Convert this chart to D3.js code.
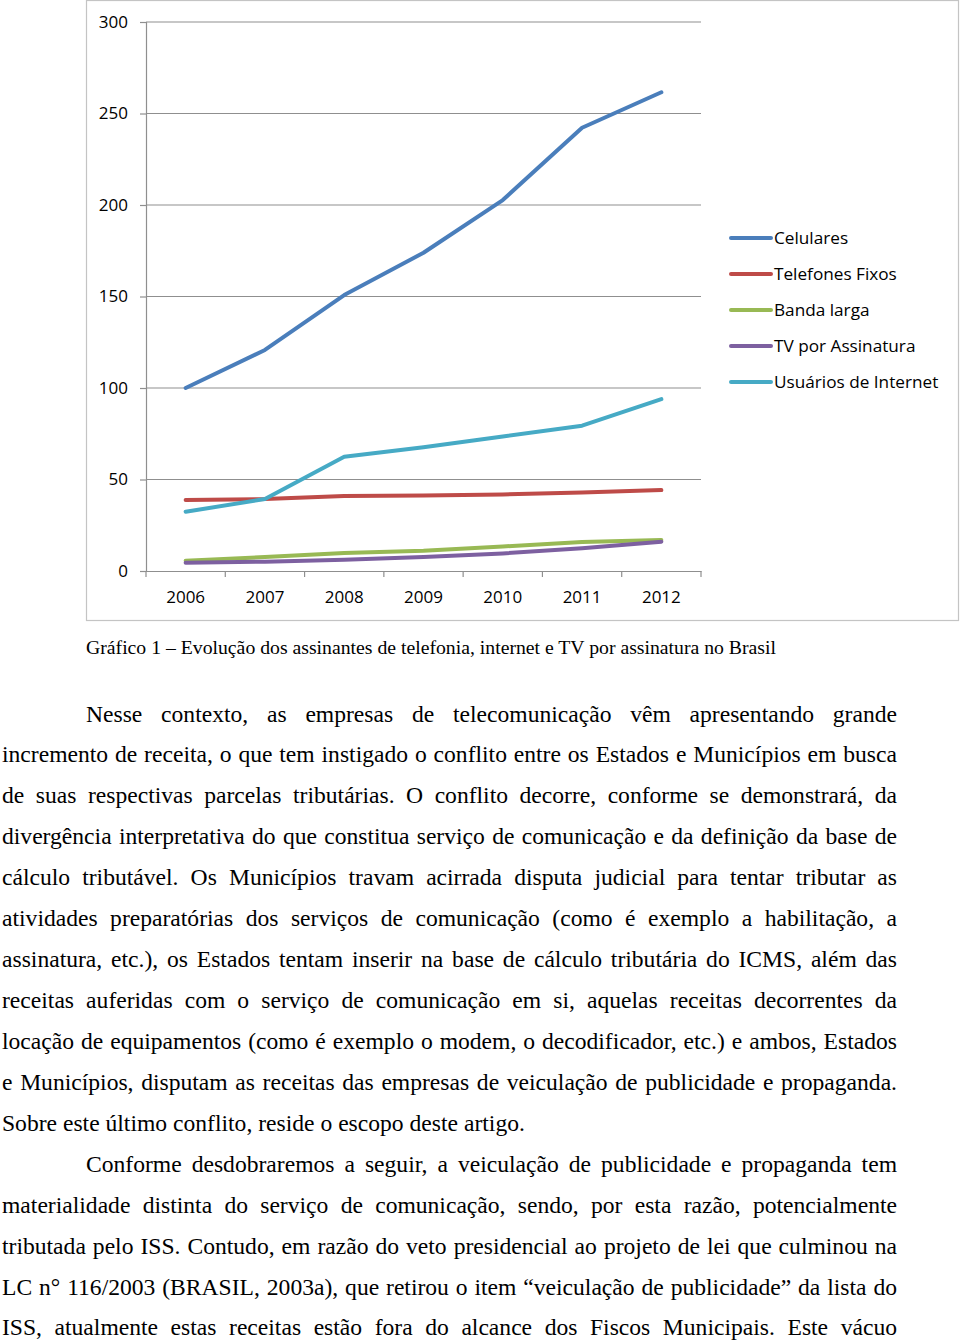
<!DOCTYPE html>
<html>
<head>
<meta charset="utf-8">
<script src="https://cdn.jsdelivr.net/npm/d3@7"></script>
<style>
  html, body { margin: 0; padding: 0; background: #fff; }
  svg { display: block; }
</style>
</head>
<body>
<svg id="page" width="960" height="1343"></svg>
<script>
// ---------- DATA ----------
const years = ["2006", "2007", "2008", "2009", "2010", "2011", "2012"];
const seriesNames = ["Celulares", "Telefones Fixos", "Banda larga", "TV por Assinatura", "Usuários de Internet"];
const celulares   = [100.0, 120.8, 150.8, 173.9, 202.7, 242.2, 261.6];
const telefones   = [38.8, 39.3, 41.0, 41.3, 41.8, 42.9, 44.2];
const bandaLarga  = [5.6, 7.6, 9.8, 11.0, 13.4, 15.9, 16.9];
const tvAssinatura= [4.5, 5.1, 6.2, 7.6, 9.6, 12.4, 16.0];
const internet    = [32.4, 39.3, 62.4, 67.6, 73.5, 79.4, 93.9];
const yTicks = [0, 50, 100, 150, 200, 250, 300];
const colors = ["#4a7ebb", "#be4b48", "#98b954", "#7d60a0", "#46aac5"];

const caption = "Gráfico 1 – Evolução dos assinantes de telefonia, internet e TV por assinatura no Brasil";
const bodyLines = [
  {t: "Nesse contexto, as empresas de telecomunicação vêm apresentando grande", indent: true, justify: true},
  {t: "incremento de receita, o que tem instigado o conflito entre os Estados e Municípios em busca", justify: true},
  {t: "de suas respectivas parcelas tributárias. O conflito decorre, conforme se demonstrará, da", justify: true},
  {t: "divergência interpretativa do que constitua serviço de comunicação e da definição da base de", justify: true},
  {t: "cálculo tributável. Os Municípios travam acirrada disputa judicial para tentar tributar as", justify: true},
  {t: "atividades preparatórias dos serviços de comunicação (como é exemplo a habilitação, a", justify: true},
  {t: "assinatura, etc.), os Estados tentam inserir na base de cálculo tributária do ICMS, além das", justify: true},
  {t: "receitas auferidas com o serviço de comunicação em si, aquelas receitas decorrentes da", justify: true},
  {t: "locação de equipamentos (como é exemplo o modem, o decodificador, etc.) e ambos, Estados", justify: true},
  {t: "e Municípios, disputam as receitas das empresas de veiculação de publicidade e propaganda.", justify: true},
  {t: "Sobre este último conflito, reside o escopo deste artigo.", justify: false},
  {t: "Conforme desdobraremos a seguir, a veiculação de publicidade e propaganda tem", indent: true, justify: true},
  {t: "materialidade distinta do serviço de comunicação, sendo, por esta razão, potencialmente", justify: true},
  {t: "tributada pelo ISS. Contudo, em razão do veto presidencial ao projeto de lei que culminou na", justify: true},
  {t: "LC n° 116/2003 (BRASIL, 2003a), que retirou o item “veiculação de publicidade” da lista do", justify: true},
  {t: "ISS, atualmente estas receitas estão fora do alcance dos Fiscos Municipais. Este vácuo", justify: true}
];

const seriesValues = [celulares, telefones, bandaLarga, tvAssinatura, internet];

// ---------- CHART ----------
const svg = d3.select("#page");
const chartFont = "'Open Sans', 'Noto Sans', sans-serif";

svg.append("rect")
  .attr("x", 86.5).attr("y", 0.5).attr("width", 872).attr("height", 620)
  .attr("fill", "#fff").attr("stroke", "#c4c4c4").attr("stroke-width", 1.2);

const x = d3.scaleBand().domain(years).range([146, 701]);
const y = d3.scaleLinear().domain([0, 300]).range([571, 22]);

svg.append("g").selectAll("line").data(yTicks.filter(d => d > 0)).join("line")
  .attr("x1", 146).attr("x2", 701)
  .attr("y1", d => y(d)).attr("y2", d => y(d))
  .attr("stroke", "#8f8f8f").attr("stroke-width", 1.2);

const yAxis = svg.append("g").attr("transform", "translate(146,0)")
  .call(d3.axisLeft(y).tickValues(yTicks).tickSize(6).tickPadding(12).tickFormat(d3.format("d")));
yAxis.select(".domain").attr("stroke", "#8f8f8f").attr("stroke-width", 1.2);
yAxis.selectAll(".tick line").attr("stroke", "#8f8f8f").attr("stroke-width", 1.2);
yAxis.selectAll("text").attr("font-family", chartFont).attr("font-size", 17).attr("fill", "#000");

const xAxis = svg.append("g").attr("transform", "translate(0,571)")
  .call(d3.axisBottom(x).tickSize(0).tickPadding(20));
xAxis.select(".domain").attr("stroke", "#8f8f8f").attr("stroke-width", 1.2);
xAxis.selectAll("text").attr("font-family", chartFont).attr("font-size", 17).attr("fill", "#000");
const boundaries = years.map(d => x(d)).concat([x(years[years.length - 1]) + x.bandwidth()]);
xAxis.append("g").selectAll("line").data(boundaries).join("line")
  .attr("x1", d => d).attr("x2", d => d).attr("y1", 0).attr("y2", 6)
  .attr("stroke", "#8f8f8f").attr("stroke-width", 1.2);

const line = d3.line()
  .x((d, i) => x(years[i]) + x.bandwidth() / 2)
  .y(d => y(d));
svg.append("g").selectAll("path").data(seriesValues).join("path")
  .attr("d", d => line(d))
  .attr("fill", "none")
  .attr("stroke", (d, i) => colors[i])
  .attr("stroke-width", 4)
  .attr("stroke-linecap", "round")
  .attr("stroke-linejoin", "round");

const legend = svg.append("g").attr("transform", "translate(731,238)");
const items = legend.selectAll("g").data(seriesNames).join("g")
  .attr("transform", (d, i) => `translate(0,${i * 36})`);
items.append("line").attr("x1", 0).attr("x2", 40).attr("y1", 0).attr("y2", 0)
  .attr("stroke", (d, i) => colors[i]).attr("stroke-width", 4).attr("stroke-linecap", "round");
items.append("text").attr("x", 43).attr("y", 0).attr("dy", "0.35em")
  .attr("font-family", chartFont).attr("font-size", 17.2).attr("fill", "#000")
  .text(d => d);

svg.append("text")
  .attr("x", 86).attr("y", 654)
  .attr("font-family", "'Liberation Serif', 'Times New Roman', serif")
  .attr("font-size", 18).attr("fill", "#000")
  .attr("textLength", 690).attr("lengthAdjust", "spacingAndGlyphs")
  .text(caption);

// body text, justified by word spacing
const bodyFont = "'Liberation Serif', 'Times New Roman', serif";
const bodySize = 23.6;
const body = svg.append("g")
  .attr("font-family", bodyFont).attr("font-size", bodySize).attr("fill", "#000");
const measure = body.append("text").attr("x", -1000).attr("y", -1000);
function w(s) { measure.text(s); return measure.node().getComputedTextLength(); }
const spaceW = w("a a") - w("aa");

bodyLines.forEach((d, i) => {
  const left = d.indent ? 86 : 2;
  const right = 897;
  const words = d.t.split(" ");
  const widths = words.map(w);
  const total = d3.sum(widths);
  const gap = d.justify ? (right - left - total) / (words.length - 1) : spaceW;
  const t = body.append("text").attr("y", 721.5 + i * 40.93);
  let cx = left;
  words.forEach((word, k) => {
    t.append("tspan").attr("x", cx).text(word);
    cx += widths[k] + gap;
  });
});
measure.remove();
</script>
</body>
</html>
